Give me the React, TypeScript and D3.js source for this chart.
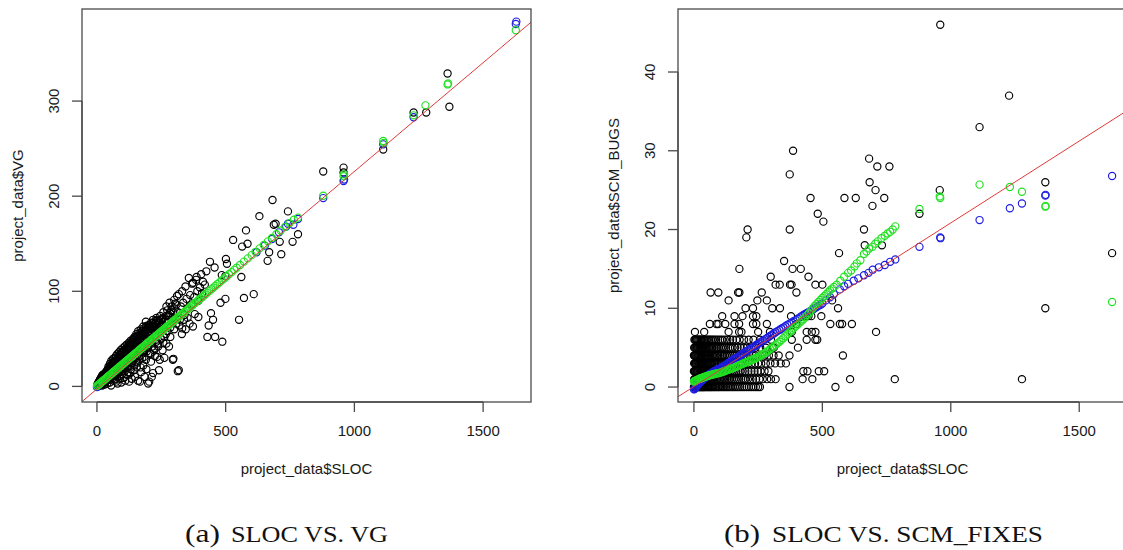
import React from "react";
import * as d3 from "d3";

const W = 1123;
const H = 550;

// ---- axis ticks ----
const slocTicks = [0, 500, 1000, 1500];
const vgTicks = [0, 100, 200, 300];
const bugTicks = [0, 10, 20, 30, 40];

// ---- panel (a): SLOC vs VG ----
// observed projects [SLOC, VG]
const vgObserved: [number, number][] = [
  [1, 0], [2, 2], [3, 1], [4, 3], [5, 0], [6, 4], [7, 2], [8, 5], [9, 1], [10, 6], [11, 3], [12, 7], [13, 2], [14, 8],
  [15, 4], [16, 9], [17, 3], [18, 10], [19, 5], [20, 11], [21, 2], [22, 9], [23, 6], [24, 12], [25, 3], [26, 10],
  [27, 7], [28, 13], [29, 4], [30, 11], [31, 8], [32, 14], [33, 5], [34, 12], [35, 9], [36, 15], [37, 6], [38, 13],
  [39, 10], [40, 16], [42, 18], [44, 12], [45, 21], [47, 15], [48, 8], [50, 19], [51, 24], [53, 14], [54, 22], [56, 27],
  [57, 10], [58, 17], [60, 25], [61, 20], [63, 29], [64, 13], [65, 23], [67, 18], [68, 30], [70, 26], [71, 11], [72, 21],
  [74, 32], [75, 16], [76, 28], [78, 24], [79, 34], [80, 13], [81, 19], [83, 30], [84, 26], [86, 36], [87, 15], [88, 22],
  [90, 33], [91, 28], [92, 38], [94, 18], [95, 25], [96, 35], [98, 30], [99, 40], [100, 16], [102, 27], [103, 37],
  [105, 22], [106, 33], [108, 42], [109, 19], [110, 29], [112, 39], [113, 35], [115, 25], [116, 44], [118, 31],
  [119, 41], [120, 20], [122, 37], [124, 46], [126, 28], [128, 43], [130, 33], [131, 48], [133, 39], [135, 24],
  [137, 45], [139, 35], [140, 50], [142, 30], [144, 41], [146, 52], [148, 37], [150, 47], [151, 26], [153, 55],
  [155, 42], [157, 33], [159, 50], [160, 58], [162, 38], [164, 46], [166, 29], [168, 53], [170, 60], [172, 43],
  [174, 36], [176, 56], [178, 49], [180, 63], [182, 40], [184, 31], [186, 58], [188, 52], [190, 68], [192, 45],
  [194, 37], [196, 61], [198, 55], [200, 42], [203, 64], [205, 50], [208, 34], [210, 67], [212, 58], [215, 47],
  [218, 70], [220, 62], [223, 40], [226, 66], [228, 53], [231, 72], [234, 60], [237, 45], [240, 69], [243, 57],
  [246, 74], [249, 50], [252, 65], [255, 60], [258, 78], [262, 52], [266, 70], [270, 84], [274, 58], [278, 75],
  [282, 88], [285, 62], [289, 80], [293, 72], [297, 29], [300, 91], [304, 87], [308, 66], [311, 95], [315, 78],
  [318, 97], [318, 17], [322, 70], [326, 84], [331, 100], [331, 61], [335, 88], [340, 75], [344, 105], [348, 92],
  [352, 82], [357, 114], [362, 96], [366, 86], [370, 108], [373, 109], [378, 94], [380, 76], [385, 112], [387, 115],
  [390, 100], [394, 73], [394, 90], [400, 104], [405, 118], [408, 98], [412, 110], [419, 107], [425, 121], [429, 52],
  [434, 64], [439, 131], [443, 77], [451, 70], [457, 125], [459, 52], [480, 88], [485, 117], [487, 47], [499, 116],
  [499, 92], [501, 134], [505, 129], [529, 154], [552, 70], [561, 115], [564, 147], [571, 93], [579, 164], [585, 150],
  [609, 97], [631, 179], [663, 132], [669, 141], [682, 196], [687, 170], [694, 171], [710, 152], [716, 139],
  [742, 184], [760, 152], [781, 160], [879, 226], [958, 230], [958, 225], [1112, 249], [1230, 288], [1279, 288],
  [1362, 329], [1369, 294],
  // dense band above the fitted line
  [20, 8], [22, 12], [25, 7], [27, 11], [30, 9], [32, 10], [35, 13], [37, 16], [40, 12], [43, 14], [45, 17], [48, 20],
  [50, 15], [52, 17], [55, 21], [58, 23], [60, 18], [62, 22], [65, 26], [68, 24], [70, 20], [73, 27], [76, 23],
  [78, 29], [80, 26], [82, 31], [85, 28], [87, 24], [89, 33], [92, 30], [94, 27], [96, 32], [98, 36], [101, 31],
  [103, 34], [105, 38], [107, 29], [110, 36], [112, 32], [114, 40], [117, 34], [120, 38], [122, 43], [125, 36],
  [127, 40], [129, 45], [132, 38], [134, 42], [136, 47], [139, 40], [141, 44], [143, 49], [146, 42], [148, 46],
  [150, 51], [153, 44], [155, 49], [157, 53], [160, 47], [162, 51], [165, 56], [167, 49], [170, 54], [173, 51],
  [175, 58], [178, 54], [181, 57], [183, 61], [186, 55], [189, 59], [191, 63], [194, 57], [197, 64], [200, 60],
  [203, 57], [206, 62], [209, 65], [212, 61], [216, 64], [219, 67], [222, 59], [225, 63], [229, 69], [232, 65],
  [236, 70], [239, 62], [242, 67], [247, 64], [250, 70], [254, 66], [258, 72], [263, 68], [268, 74], [273, 80],
  [278, 70], [284, 77], [290, 84], [296, 78], [302, 82], [309, 86],
  // below the fitted line
  [20, 1], [30, 2], [40, 3], [50, 4], [55, 1], [65, 6], [75, 5], [80, 3], [90, 8], [95, 4], [105, 9], [110, 6],
  [118, 12], [125, 5], [130, 14], [135, 8], [142, 17], [148, 10], [155, 20], [160, 6], [167, 5], [172, 15], [180, 22],
  [185, 10], [192, 18], [199, 3], [203, 5], [210, 26], [213, 10], [218, 14], [225, 32], [234, 31], [241, 17],
  [244, 28], [255, 38], [262, 30], [270, 45], [280, 42], [295, 28], [314, 16], [330, 55], [345, 60], [360, 66],
  [373, 63], [10, 1], [15, 2], [25, 4], [35, 5], [45, 7], [52, 9], [60, 10], [68, 12], [72, 8], [78, 14], [85, 16],
  [88, 11], [93, 18], [98, 13], [102, 20], [108, 16], [113, 22], [120, 15], [127, 25], [132, 18], [138, 27],
  [145, 22], [150, 30], [158, 25], [163, 32], [170, 20], [176, 30], [183, 36], [190, 28], [196, 40], [206, 35],
  [215, 42], [222, 38], [230, 47], [238, 42], [248, 50], [258, 46], [268, 55], [285, 52], [300, 60], [320, 64],
  [338, 70], [352, 72],
];

// fitted values, model 1 (green)
const vgFitGreen: [number, number][] = [
  [0, 0.4], [4, 1.3], [8, 2.2], [12, 3.1], [16, 4.1], [20, 5.0], [24, 5.9], [28, 6.8], [32, 7.7], [36, 8.6], [40, 9.6],
  [44, 10.5], [48, 11.4], [52, 12.3], [56, 13.2], [60, 14.1], [64, 15.1], [68, 16.0], [72, 16.9], [76, 17.8],
  [80, 18.7], [84, 19.6], [88, 20.6], [92, 21.5], [96, 22.4], [100, 23.3], [104, 24.2], [108, 25.1], [112, 26.0],
  [116, 27.0], [120, 27.9], [124, 28.8], [128, 29.7], [132, 30.6], [136, 31.5], [140, 32.5], [144, 33.4],
  [148, 34.3], [152, 35.2], [156, 36.1], [160, 37.0], [164, 38.0], [168, 38.9], [172, 39.8], [176, 40.7],
  [180, 41.6], [184, 42.5], [188, 43.5], [192, 44.4], [196, 45.3], [200, 46.2], [204, 47.1], [208, 48.0],
  [212, 49.0], [216, 49.9], [220, 50.8], [224, 51.7], [228, 52.6], [232, 53.5], [236, 54.4], [240, 55.4],
  [244, 56.3], [248, 57.2], [252, 58.1], [256, 59.0], [260, 59.9], [264, 60.9], [268, 61.8], [272, 62.7],
  [276, 63.6], [280, 64.5], [284, 65.4], [288, 66.4], [292, 67.3], [296, 68.2], [300, 69.1], [305, 70.2],
  [310, 71.4], [315, 72.5], [320, 73.7], [325, 74.8], [330, 76.0], [335, 77.1], [340, 78.3], [345, 79.4],
  [350, 80.5], [355, 81.7], [360, 82.8], [366, 84.2], [372, 85.6], [378, 87.0], [384, 88.3], [390, 89.7],
  [396, 91.1], [402, 92.5], [408, 93.8], [414, 95.2], [420, 96.6], [428, 98.4], [436, 100.2], [444, 102.1],
  [452, 103.9], [460, 105.7], [468, 107.6], [476, 109.4], [485, 111.5], [494, 113.5], [503, 115.6], [513, 117.9],
  [523, 120.2], [533, 122.5], [543, 124.8], [556, 127.7], [571, 131.2], [586, 134.6], [601, 138.0], [616, 141.5],
  [632, 145.1], [648, 148.8], [664, 152.5], [680, 156.1], [697, 160.0], [714, 163.9], [731, 167.8], [748, 171.7],
  [765, 175.2], [781, 177.5], [879, 200.5], [958, 221], [960, 223], [1112, 258], [1114, 256], [1230, 285],
  [1276, 295.5], [1362, 317.5], [1364, 318.5], [1627, 374.5],
];

// fitted values, model 2 (blue)
const vgFitBlue: [number, number][] = [
  [0, -0.8], [3, 0.2], [6, 0.9], [620, 141], [652, 148], [680, 155], [707, 162], [735, 168], [742, 171], [763, 170],
  [781, 176], [879, 198], [958, 216], [960, 217.5], [1112, 254.5], [1230, 283], [1627, 381], [1629, 383.5],
];

// least-squares line [intercept, slope]
const vgAbline = [-2.7, 0.2287];

// ---- panel (b): SLOC vs SCM_BUGS ----
// observed projects, grouped by bug count: [bugs, SLOC values]
const bugRows: [number, number[]][] = [
  [0, [0, 2, 4, 6, 8, 10, 13, 16, 19, 22, 25, 28, 31, 34, 37, 40, 44, 48, 52, 56, 60, 64, 68, 72, 77, 82, 87, 92, 97, 102, 108, 114, 120, 126, 132, 138, 145, 152, 159, 166, 173, 180, 188, 196, 205, 214, 223, 232, 241, 250, 257, 372, 551]],
  [1, [1, 3, 5, 7, 9, 12, 15, 18, 21, 24, 27, 30, 33, 36, 39, 43, 47, 51, 55, 59, 63, 67, 71, 75, 80, 85, 90, 95, 100, 105, 111, 117, 123, 129, 135, 141, 148, 155, 162, 169, 176, 184, 192, 200, 210, 220, 230, 242, 255, 268, 285, 300, 318, 423, 461, 608, 782, 1277]],
  [2, [0, 2, 4, 6, 9, 12, 15, 18, 21, 24, 27, 30, 34, 38, 42, 46, 50, 54, 58, 62, 66, 70, 75, 80, 85, 90, 95, 100, 106, 112, 118, 124, 130, 137, 144, 151, 158, 165, 173, 181, 190, 200, 212, 224, 236, 248, 260, 275, 290, 426, 442, 486, 507]],
  [3, [1, 3, 5, 8, 11, 14, 17, 20, 23, 26, 29, 32, 36, 40, 44, 48, 52, 56, 60, 64, 68, 73, 78, 83, 88, 93, 98, 104, 110, 116, 122, 128, 134, 141, 148, 155, 163, 171, 180, 190, 200, 212, 225, 238, 250, 262, 280, 298, 316, 338, 358]],
  [4, [0, 2, 4, 7, 10, 13, 16, 19, 22, 25, 28, 31, 35, 39, 43, 47, 51, 55, 59, 64, 69, 74, 79, 84, 90, 96, 102, 108, 114, 121, 128, 135, 142, 150, 158, 166, 175, 184, 194, 205, 216, 228, 240, 258, 275, 292, 310, 330, 372, 580]],
  [5, [1, 3, 6, 9, 12, 15, 18, 21, 24, 28, 32, 36, 40, 44, 48, 53, 58, 63, 68, 73, 79, 85, 91, 97, 104, 111, 118, 125, 133, 141, 150, 160, 170, 182, 194, 206, 222, 240, 258, 280, 304, 311, 405]],
  [6, [2, 5, 8, 11, 14, 18, 22, 26, 30, 34, 39, 44, 49, 54, 60, 66, 72, 79, 86, 94, 102, 110, 120, 130, 141, 152, 165, 178, 195, 213, 232, 257, 300, 381, 439, 473, 480]],
  [7, [4, 40, 135, 176, 185, 250, 296, 381, 439, 459, 473, 709]],
  [8, [62, 88, 95, 122, 158, 176, 230, 243, 284, 399, 531, 568, 577, 615]],
  [9, [110, 158, 189, 230, 243, 378, 439, 446, 457, 496]],
  [10, [201, 230, 305, 335, 561, 1368]],
  [11, [135, 247, 284, 538]],
  [12, [65, 95, 172, 177, 264, 399]],
  [13, [318, 334, 374, 380, 473, 500]],
  [14, [299, 446]],
  [15, [177, 384, 416]],
  [16, [351]],
  [17, [565, 1628]],
  [18, [665, 732]],
  [19, [204]],
  [20, [209, 373, 662]],
  [21, [504]],
  [22, [482, 878]],
  [23, [695]],
  [24, [454, 586, 630, 741]],
  [25, [707, 957]],
  [26, [684, 1368]],
  [27, [373]],
  [28, [714, 761]],
  [29, [682]],
  [30, [386]],
  [33, [1112]],
  [37, [1227]],
  [46, [959]],
];

// fitted values, model 1 (green)
const bugFitGreen: [number, number][] = [
  [0, 0.7], [2, 0.72], [4, 0.75], [6, 0.8], [8, 0.82], [10, 0.85], [13, 0.9], [16, 0.95], [19, 1.0], [22, 1.05],
  [25, 1.08], [28, 1.12], [31, 1.15], [34, 1.2], [37, 1.23], [40, 1.27], [44, 1.3], [48, 1.35], [52, 1.4],
  [56, 1.44], [60, 1.48], [64, 1.52], [68, 1.55], [72, 1.59], [76, 1.62], [80, 1.65], [85, 1.69], [90, 1.73],
  [95, 1.76], [100, 1.8], [105, 1.86], [110, 1.91], [115, 1.97], [120, 2.03], [125, 2.1], [130, 2.15], [135, 2.21],
  [140, 2.27], [145, 2.33], [150, 2.38], [156, 2.46], [162, 2.55], [168, 2.64], [174, 2.73], [180, 2.82],
  [186, 2.9], [192, 2.99], [198, 3.08], [204, 3.15], [210, 3.23], [216, 3.31], [222, 3.39], [228, 3.47],
  [234, 3.56], [240, 3.66], [246, 3.76], [252, 3.86], [258, 3.98], [264, 4.1], [270, 4.22], [277, 4.35],
  [284, 4.5], [290, 4.65], [297, 4.82], [304, 5.0], [311, 5.17], [318, 5.35], [325, 5.55], [333, 5.75],
  [340, 5.96], [348, 6.2], [356, 6.45], [364, 6.7], [372, 6.95], [380, 7.2], [388, 7.45], [396, 7.7], [404, 7.95],
  [412, 8.2], [419, 8.4], [426, 8.6], [433, 8.85], [440, 9.1], [448, 9.4], [455, 9.7], [463, 10.0], [470, 10.3],
  [478, 10.55], [485, 10.8], [493, 11.05], [500, 11.3], [508, 11.55], [515, 11.8], [523, 12.05], [530, 12.3],
  [538, 12.5], [545, 12.7], [556, 13.0], [570, 13.5], [585, 14.0], [600, 14.5], [612, 14.8], [625, 15.3],
  [634, 15.7], [648, 16.1], [662, 16.9], [672, 17.2], [682, 17.6], [695, 17.8], [706, 18.2], [716, 18.5],
  [730, 18.9], [743, 19.2], [754, 19.5], [764, 19.7], [774, 20.0], [784, 20.4], [878, 22.6], [957, 24.2],
  [959, 24.0], [1112, 25.7], [1230, 25.4], [1277, 24.8], [1368, 22.9], [1369, 23.0], [1628, 10.8],
];

// fitted values, model 2 (blue)
const bugFitBlue: [number, number][] = [
  [0, -0.3], [2, -0.25], [4, -0.18], [6, -0.1], [8, 0.0], [10, 0.08], [13, 0.2], [16, 0.33], [19, 0.45],
  [22, 0.55], [25, 0.66], [28, 0.75], [31, 0.84], [34, 0.95], [37, 1.02], [40, 1.1], [44, 1.2], [48, 1.3],
  [52, 1.4], [56, 1.52], [60, 1.61], [64, 1.7], [68, 1.8], [72, 1.87], [76, 1.94], [80, 2.0], [85, 2.1],
  [90, 2.2], [95, 2.27], [100, 2.34], [105, 2.42], [110, 2.52], [115, 2.65], [120, 2.75], [125, 2.85],
  [130, 2.96], [135, 3.07], [140, 3.18], [145, 3.3], [150, 3.41], [156, 3.53], [162, 3.65], [168, 3.77],
  [174, 3.89], [180, 4.01], [186, 4.13], [192, 4.28], [198, 4.42], [204, 4.55], [210, 4.66], [216, 4.76],
  [222, 4.9], [228, 5.02], [234, 5.14], [240, 5.27], [246, 5.4], [252, 5.52], [258, 5.66], [264, 5.8],
  [270, 5.92], [277, 6.05], [284, 6.2], [290, 6.35], [297, 6.5], [304, 6.65], [311, 6.8], [318, 6.95],
  [325, 7.1], [333, 7.25], [340, 7.4], [348, 7.55], [356, 7.72], [364, 7.9], [372, 8.05], [380, 8.2],
  [388, 8.35], [396, 8.5], [404, 8.68], [412, 8.85], [419, 9.0], [426, 9.15], [433, 9.28], [440, 9.4],
  [448, 9.55], [455, 9.7], [463, 9.85], [470, 10.0], [478, 10.15], [485, 10.3], [493, 10.45], [500, 10.6],
  [514, 11.0], [530, 11.4], [545, 11.8], [568, 12.4], [585, 12.8], [600, 13.1], [622, 13.5], [640, 13.8],
  [662, 14.2], [680, 14.5], [696, 14.9], [720, 15.2], [743, 15.5], [764, 15.9], [784, 16.2], [878, 17.8],
  [959, 19.0], [960, 18.9], [1112, 21.2], [1230, 22.7], [1277, 23.3], [1368, 24.3], [1369, 24.4], [1628, 26.8],
];

const bugAbline = [0.06, 0.02078];

const bugObserved: [number, number][] = bugRows.flatMap(([b, xs]) =>
  xs.map((s) => [s, b] as [number, number])
);

const FONT = "'Liberation Sans', Arial, Helvetica, sans-serif";
const SERIF = "'Liberation Serif', 'Times New Roman', serif";
const INK = "#1a1a1a";
const FRAME = "#4a4a4a";
const R = 3.6;
const SW = 1.15;

type Box = { left: number; right: number; top: number; bottom: number };

type PanelProps = {
  id: string;
  box: Box;
  xDomain: [number, number];
  yDomain: [number, number];
  xTicks: number[];
  yTicks: number[];
  xTitle: string;
  yTitle: string;
  observed: [number, number][];
  fitBlue: [number, number][];
  fitGreen: [number, number][];
  coef: number[];
};

function Panel(p: PanelProps) {
  const { box } = p;
  const x = d3.scaleLinear().domain(p.xDomain).range([box.left, box.right]);
  const y = d3.scaleLinear().domain(p.yDomain).range([box.bottom, box.top]);
  const [a, b] = p.coef;
  const linePath = d3.line()(
    p.xDomain.map((u) => [x(u), y(a + b * u)] as [number, number])
  );
  const clipId = `clip-${p.id}`;
  const tickLen = 10;
  const xMid = (box.left + box.right) / 2;
  const yMid = (box.top + box.bottom) / 2;

  const dots = (pts: [number, number][], color: string, key: string) =>
    pts.map(([u, v], i) => (
      <circle
        key={`${key}-${i}`}
        cx={x(u)}
        cy={y(v)}
        r={R}
        fill="none"
        stroke={color}
        strokeWidth={SW}
      />
    ));

  return (
    <g>
      <defs>
        <clipPath id={clipId}>
          <rect x={box.left} y={box.top} width={box.right - box.left} height={box.bottom - box.top} />
        </clipPath>
      </defs>
      <g clipPath={`url(#${clipId})`}>
        {dots(p.observed, "#000", "o")}
        {dots(p.fitBlue, "#1c1ce0", "b")}
        {dots(p.fitGreen, "#22e022", "g")}
        <path d={linePath ?? ""} fill="none" stroke="#e03a3a" strokeWidth={1} />
      </g>
      <rect
        x={box.left}
        y={box.top}
        width={box.right - box.left}
        height={box.bottom - box.top}
        fill="none"
        stroke={FRAME}
        strokeWidth={1.3}
      />
      {/* x axis */}
      <line
        x1={x(p.xTicks[0])}
        x2={x(p.xTicks[p.xTicks.length - 1])}
        y1={box.bottom}
        y2={box.bottom}
        stroke={FRAME}
        strokeWidth={1.3}
      />
      {p.xTicks.map((t) => (
        <g key={`xt-${t}`}>
          <line x1={x(t)} x2={x(t)} y1={box.bottom} y2={box.bottom + tickLen} stroke={FRAME} strokeWidth={1.3} />
          <text x={x(t)} y={box.bottom + 34} textAnchor="middle" fontFamily={FONT} fontSize={15} fill={INK}>
            {t}
          </text>
        </g>
      ))}
      {/* y axis */}
      <line
        x1={box.left}
        x2={box.left}
        y1={y(p.yTicks[0])}
        y2={y(p.yTicks[p.yTicks.length - 1])}
        stroke={FRAME}
        strokeWidth={1.3}
      />
      {p.yTicks.map((t) => (
        <g key={`yt-${t}`}>
          <line x1={box.left - tickLen} x2={box.left} y1={y(t)} y2={y(t)} stroke={FRAME} strokeWidth={1.3} />
          <text
            transform={`translate(${box.left - 28},${y(t)}) rotate(-90)`}
            textAnchor="middle"
            dy="0.36em"
            fontFamily={FONT}
            fontSize={15}
            fill={INK}
          >
            {t}
          </text>
        </g>
      ))}
      <text x={xMid} y={box.bottom + 72} textAnchor="middle" fontFamily={FONT} fontSize={15} fill={INK}>
        {p.xTitle}
      </text>
      <text
        transform={`translate(${box.left - 64},${yMid}) rotate(-90)`}
        textAnchor="middle"
        dy="0.32em"
        fontFamily={FONT}
        fontSize={15}
        fill={INK}
      >
        {p.yTitle}
      </text>
    </g>
  );
}

function Caption({ x0, tag, tagWidth, label, labelX, labelWidth }: {
  x0: number; tag: string; tagWidth: number; label: string; labelX: number; labelWidth: number;
}) {
  const base = 542;
  return (
    <g fill="#111" fontFamily={SERIF}>
      <text x={x0} y={base} fontSize={26} textLength={tagWidth} lengthAdjust="spacingAndGlyphs">
        {tag}
      </text>
      <text x={labelX} y={base} fontSize={22.5} textLength={labelWidth} lengthAdjust="spacingAndGlyphs">
        {label}
      </text>
    </g>
  );
}

export default function App() {
  return (
    <svg
      width={W}
      height={H}
      viewBox={`0 0 ${W} ${H}`}
      style={{ position: "absolute", left: 0, top: 0, background: "#fff", display: "block" }}
    >
      <rect width={W} height={H} fill="#fff" />
      <Panel
        id="a"
        box={{ left: 82, right: 531, top: 9, bottom: 402 }}
        xDomain={[-58, 1686]}
        yDomain={[-16.4, 396.8]}
        xTicks={slocTicks}
        yTicks={vgTicks}
        xTitle="project_data$SLOC"
        yTitle="project_data$VG"
        observed={vgObserved}
        fitBlue={vgFitBlue}
        fitGreen={vgFitGreen}
        coef={vgAbline}
      />
      <Panel
        id="b"
        box={{ left: 678, right: 1127, top: 9, bottom: 402 }}
        xDomain={[-62, 1686]}
        yDomain={[-1.9, 48.0]}
        xTicks={slocTicks}
        yTicks={bugTicks}
        xTitle="project_data$SLOC"
        yTitle="project_data$SCM_BUGS"
        observed={bugObserved}
        fitBlue={bugFitBlue}
        fitGreen={bugFitGreen}
        coef={bugAbline}
      />
      <Caption x0={185} tag="(a)" tagWidth={35} label="SLOC VS. VG" labelX={231} labelWidth={157} />
      <Caption x0={724} tag="(b)" tagWidth={36} label="SLOC VS. SCM_FIXES" labelX={772} labelWidth={271} />
    </svg>
  );
}
